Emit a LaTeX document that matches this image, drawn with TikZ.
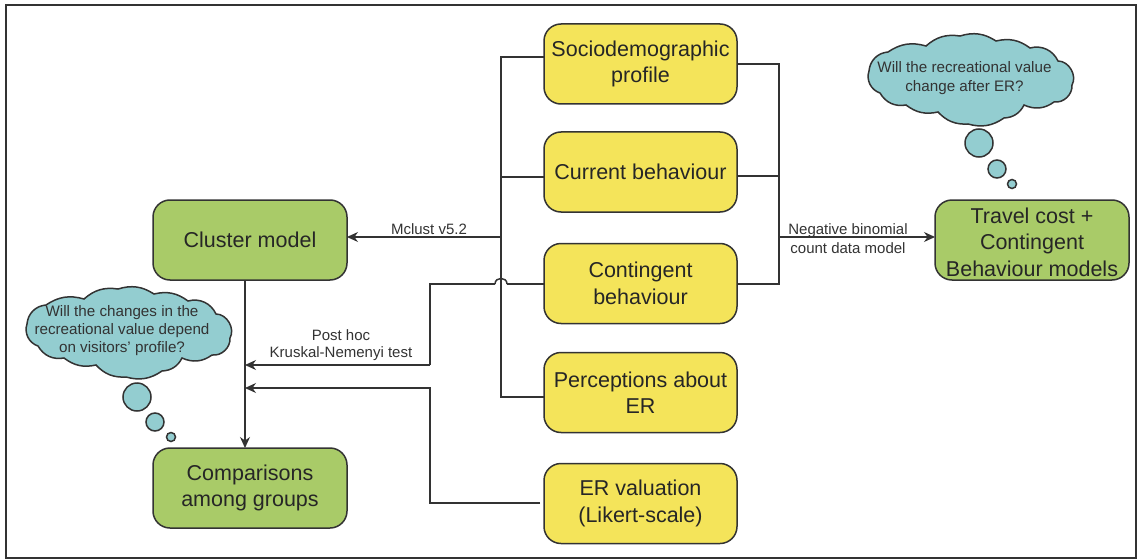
\documentclass[tikz,border=0pt]{standalone}
\usepackage{fontspec}
\setmainfont{Liberation Sans}
\usetikzlibrary{arrows.meta}
\definecolor{yel}{HTML}{F4E45A}
\definecolor{grn}{HTML}{A9CB68}
\definecolor{teal1}{HTML}{93CDD0}
\definecolor{ink}{HTML}{333333}
\tikzset{
  box/.style={draw=ink,line width=1.5pt,rounded corners=17pt,align=center,font=\fontsize{21.5}{26.5}\selectfont,inner sep=0pt,text=black!85},
  yelbox/.style={box,fill=yel,minimum width=193pt,minimum height=80pt},
  grnbox/.style={box,fill=grn,minimum width=194pt,minimum height=80pt},
  conn/.style={draw=ink,line width=1.1pt},
  jump/.style={draw=ink,line width=1.5pt},
  arr/.style={conn,-{Stealth[length=11pt,width=10pt]}},
  lab/.style={font=\fontsize{15}{17.5}\selectfont,align=center,text=black!80,inner sep=0pt},
  bub/.style={draw=ink,line width=1.5pt,fill=teal1,circle,inner sep=0pt},
  thought/.pic={
    \draw[draw=ink,line width=1.5pt,fill=teal1]
      (-101,-8) to[bend left=40] (-82,-27) to[bend left=25] (-44,-33)
      to[bend left=25] (-10,-43) to[bend left=25] (26,-38)
      to[bend left=25] (60,-31) to[bend left=40] (88,-18)
      to[bend left=60] (102,6) to[bend left=50] (84,23)
      to[bend left=30] (54,26) to[bend left=30] (34,39)
      to[bend left=25] (-2,45) to[bend left=25] (-32,33)
      to[bend left=25] (-64,26) to[bend left=35] (-90,14)
      to[bend left=45] (-101,-8) -- cycle;
  }
}
\begin{document}
\begin{tikzpicture}[x=1pt,y=-1pt]
\useasboundingbox (0,0) rectangle (1137,559);
\fill[white] (0,0) rectangle (1137,559);
\draw[ink,line width=1.5pt] (6,5) rectangle (1136,558);

% yellow boxes
\node[yelbox] (soc) at (640.5,64) {Sociodemographic\\profile};
\node[yelbox] (cur) at (640.5,172) {Current behaviour};
\node[yelbox] (con) at (640.5,283.5) {Contingent\\behaviour};
\node[yelbox] (per) at (640.5,392.5) {Perceptions about\\ER};
\node[yelbox] (val) at (640.5,503.5) {ER valuation\\(Likert-scale)};
% green boxes
\node[grnbox] (clu) at (250,240) {Cluster model};
\node[grnbox] (cmp) at (250,488) {Comparisons\\among groups};
\node[grnbox] (trv) at (1032,240) {\rule{0pt}{19.5pt}Travel cost +\\Contingent\\Behaviour models};

% junction coordinates
\coordinate (lt) at (501,57);
\coordinate (lc) at (501,177);
\coordinate (lm) at (501,237);
\coordinate (lb) at (501,397);
\coordinate (rt) at (779,64);
\coordinate (rc) at (779,176);
\coordinate (rm) at (779,237);
\coordinate (rb) at (779,284);
\coordinate (jr) at (507,284);
\coordinate (jl) at (495,284);
\coordinate (k1) at (430,284);
\coordinate (k2) at (430,365);
\coordinate (k3) at (245,365);
\coordinate (v1) at (430,503);
\coordinate (v2) at (430,388);
\coordinate (v3) at (245,388);
\coordinate (cb) at (245,280);
\coordinate (ct) at (245,448);
\coordinate (cr) at (347,237);
\coordinate (tl) at (935,237);
\coordinate (ys) at (544,57);
\coordinate (yc) at (544,177);
\coordinate (yk) at (544,284);
\coordinate (yp) at (544,397);
\coordinate (yv) at (540,503);
\coordinate (zs) at (737,64);
\coordinate (zc) at (737,176);
\coordinate (zb) at (737,284);

% left bus
\draw[conn] (ys) -- (lt) -- (lb) -- (yp);
\draw[conn] (yc) -- (lc);
\draw[arr] (lm) -- (cr);
% right bus
\draw[conn] (zs) -- (rt) -- (rb) -- (zb);
\draw[conn] (zc) -- (rc);
\draw[arr] (rm) -- (tl);
% contingent to post hoc with line jump
\draw[conn] (yk) -- (jr);
\draw[jump] (jr) to[out=90,in=90,looseness=1.6] (jl);
\draw[conn] (jl) -- (k1) -- (k2);
\draw[arr] (k2) -- (k3);
% ER valuation
\draw[arr] (yv) -- (v1) -- (v2) -- (v3);
% cluster to comparisons
\draw[arr] (cb) -- (ct);

% labels
\node[lab] (l1) at (429,229) {Mclust v5.2};
\node[lab] (l2) at (341,345) {Post hoc\\Kruskal-Nemenyi test};
\node[lab] (l3) at (848,238.5) {Negative binomial\\[1.5pt]count data model};

% right thought
\pic at (970,79) {thought};
\node[font=\fontsize{15.2}{19}\selectfont,align=center,text=black!80,inner sep=0pt] (q1) at (964.5,78) {Will the recreational value\\change after ER?};
\node[bub,minimum size=28pt] (b1) at (979,143) {};
\node[bub,minimum size=18pt] (b2) at (997,169) {};
\node[bub,minimum size=9pt] (b3) at (1012,184) {};
% left thought
\pic at (128,332) {thought};
\node[font=\fontsize{15.2}{18}\selectfont,align=center,text=black!80,inner sep=0pt] (q2) at (122,331) {Will the changes in the\\recreational value depend\\on visitors' profile?};
\node[bub,minimum size=28pt] (b4) at (137,397) {};
\node[bub,minimum size=18pt] (b5) at (155,422) {};
\node[bub,minimum size=9pt] (b6) at (171,437) {};
\end{tikzpicture}
\end{document}
